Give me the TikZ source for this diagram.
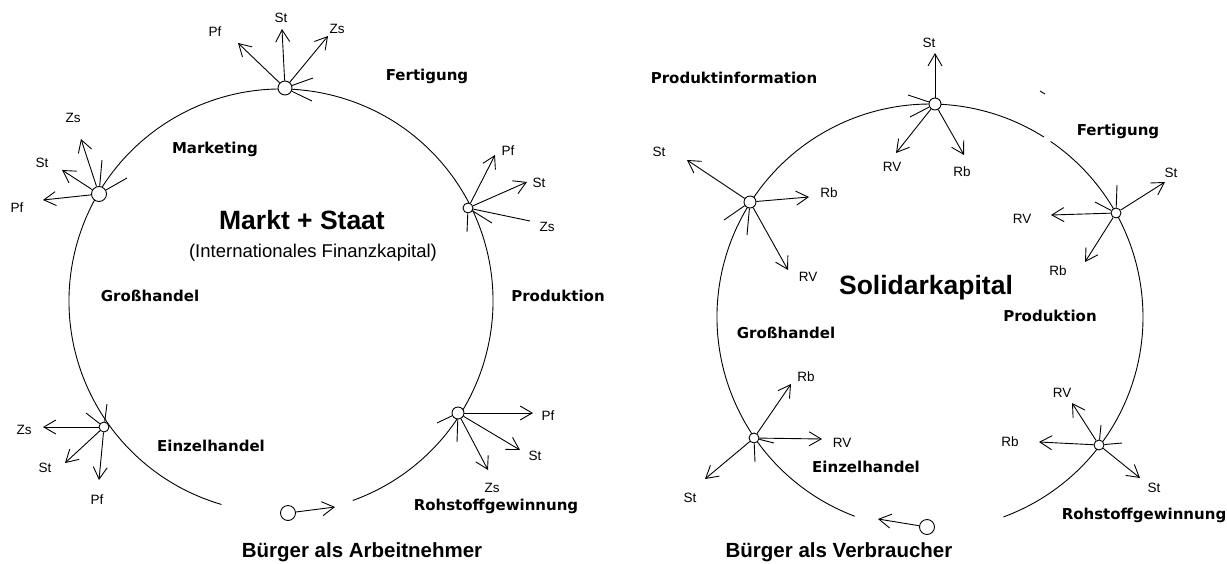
\documentclass[tikz,border=0pt]{standalone}
\usepackage{fontspec}
\setmainfont{Liberation Sans}
\newfontfamily\labelfont{DejaVu Sans}
\usetikzlibrary{arrows.meta}

\begin{document}
\begin{tikzpicture}[x=1pt, y=-1pt, line width=0.9pt,
    >={Straight Barb[length=12pt,width=14pt]},
    hub/.style={circle, draw, fill=white, inner sep=0pt, minimum size=#1},
    hub/.default=10pt,
    stage/.style={font=\labelfont\bfseries\fontsize{15}{18}\selectfont, inner sep=0pt},
    abbr/.style={font=\fontsize{13.5}{16}\selectfont, inner sep=0pt},
    headline/.style={font=\bfseries\fontsize{26.5}{30}\selectfont, inner sep=0pt},
    citizen/.style={font=\bfseries\fontsize{20.5}{24}\selectfont, inner sep=0pt}]
            \useasboundingbox (0,0) rectangle (1227,563);

            % Left cycle
            \coordinate (lc) at (281,301);
            \draw (lc) ++(106.3:212) arc[start angle=106.3, end angle=430.2, radius=212];

            \node[headline] (markt) at (302,220) {Markt + Staat};
            \node[inner sep=0pt, font=\fontsize{18.5}{22}\selectfont] (finanz) at (313,253) {(Internationales Finanzkapital)};
            \node[stage] (lfert) at (427,76) {Fertigung};
            \node[stage] (lmark) at (215,149) {Marketing};
            \node[stage] (lgross) at (150,296) {Großhandel};
            \node[stage] (lprod) at (558,296) {Produktion};
            \node[stage] (leinz) at (211,446) {Einzelhandel};
            \node[stage] (lroh) at (496,506) {Rohstoffgewinnung};
            \node[citizen] (larb) at (362,552) {Bürger als Arbeitnehmer};

            % Top hub
            \node[hub=14pt] (lt) at (285,88) {};
            \coordinate (lt1) at (282,29);
            \coordinate (lt2) at (238,43);
            \coordinate (lt3) at (328,36);
            \coordinate (lt4) at (313,78);
            \coordinate (lt5) at (312,101);
            \draw[->] (lt) -- (lt1);
            \draw[->] (lt) -- (lt2);
            \draw[->] (lt) -- (lt3);
            \draw (lt) -- (lt4);
            \draw (lt) -- (lt5);
            \node[abbr] (lt1t) at (281,18) {St};
            \node[abbr] (lt2t) at (215,32) {Pf};
            \node[abbr] (lt3t) at (337,29) {Zs};

            % Marketing hub
            \node[hub=15pt] (ll) at (99,194) {};
            \coordinate (ll1) at (81,139);
            \coordinate (ll2) at (62,170);
            \coordinate (ll3) at (43,200);
            \coordinate (ll4) at (102,160);
            \coordinate (ll5) at (127,178);
            \draw[->] (ll) -- (ll1);
            \draw[->] (ll) -- (ll2);
            \draw[->] (ll) -- (ll3);
            \draw (ll) -- (ll4);
            \draw (ll) -- (ll5);
            \node[abbr] (ll1t) at (73,118) {Zs};
            \node[abbr] (ll2t) at (42,163) {St};
            \node[abbr] (ll3t) at (17,208) {Pf};

            % Production hub
            \node[hub] (lr) at (468,208) {};
            \coordinate (lr1) at (495,155);
            \coordinate (lr2) at (527,182);
            \coordinate (lr3) at (530,221);
            \coordinate (lr4) at (492,223);
            \coordinate (lr5) at (467,232);
            \draw[->] (lr) -- (lr1);
            \draw[->] (lr) -- (lr2);
            \draw (lr) -- (lr3);
            \draw (lr) -- (lr4);
            \draw (lr) -- (lr5);
            \node[abbr] (lr1t) at (508,151) {Pf};
            \node[abbr] (lr2t) at (539,183) {St};
            \node[abbr] (lr3t) at (547,227) {Zs};

            % Retail hub
            \node[hub] (llb) at (104,427) {};
            \coordinate (llb1) at (43,427);
            \coordinate (llb2) at (65,463);
            \coordinate (llb3) at (99,480);
            \coordinate (llb4) at (86,413);
            \coordinate (llb5) at (107,404);
            \draw[->] (llb) -- (llb1);
            \draw[->] (llb) -- (llb2);
            \draw[->] (llb) -- (llb3);
            \draw (llb) -- (llb4);
            \draw (llb) -- (llb5);
            \node[abbr] (llb1t) at (24,430) {Zs};
            \node[abbr] (llb2t) at (45,468) {St};
            \node[abbr] (llb3t) at (97,500) {Pf};

            % Raw material hub
            \node[hub=12pt] (lrb) at (458,413) {};
            \coordinate (lrb1) at (533,413);
            \coordinate (lrb2) at (520,450);
            \coordinate (lrb3) at (488,470);
            \coordinate (lrb4) at (437,423);
            \coordinate (lrb5) at (457,442);
            \draw[->] (lrb) -- (lrb1);
            \draw[->] (lrb) -- (lrb2);
            \draw[->] (lrb) -- (lrb3);
            \draw (lrb) -- (lrb4);
            \draw (lrb) -- (lrb5);
            \node[abbr] (lrb1t) at (548,416) {Pf};
            \node[abbr] (lrb2t) at (535,456) {St};
            \node[abbr] (lrb3t) at (492,488) {Zs};

            % Worker
            \node[hub=15pt] (lp) at (288,513) {};
            \coordinate (lp1) at (335,507);
            \draw[->] (lp) -- (lp1);

            % Right cycle
            \coordinate (rc) at (930,317);
            \draw (rc) ++(110.7:213) arc[start angle=110.7, end angle=302.3, radius=213];
            \draw (rc) ++(304.5:213) arc[start angle=304.5, end angle=429.8, radius=213];
            \coordinate (rk1) at (1040,91);
            \coordinate (rk2) at (1045,94);
            \draw (rk1) -- (rk2);

            \node[headline] (solid) at (926,288) {Solidarkapital};
            \node[stage] (rinfo) at (734,78) {Produktinformation};
            \node[stage] (rfert) at (1118,131) {Fertigung};
            \node[stage] (rprod) at (1050,316) {Produktion};
            \node[stage] (rgross) at (786,333) {Großhandel};
            \node[stage] (reinz) at (866,467) {Einzelhandel};
            \node[stage] (rroh) at (1144,515) {Rohstoffgewinnung};
            \node[citizen] (rverb) at (839,552) {Bürger als Verbraucher};

            % Top hub
            \node[hub=12pt] (rt) at (935,104) {};
            \coordinate (rt1) at (935,53);
            \coordinate (rt2) at (896,153);
            \coordinate (rt3) at (964,155);
            \coordinate (rt4) at (908,95);
            \coordinate (rt5) at (910,117);
            \draw[->] (rt) -- (rt1);
            \draw[->] (rt) -- (rt2);
            \draw[->] (rt) -- (rt3);
            \draw (rt) -- (rt4);
            \draw (rt) -- (rt5);
            \node[abbr] (rt1t) at (929,43) {St};
            \node[abbr] (rt2t) at (892,167) {RV};
            \node[abbr] (rt3t) at (962,172) {Rb};

            % Information hub
            \node[hub=12pt] (rl) at (750,202) {};
            \coordinate (rl1) at (687,160);
            \coordinate (rl2) at (809,197);
            \coordinate (rl3) at (788,270);
            \coordinate (rl4) at (724,220);
            \coordinate (rl5) at (747,235);
            \draw[->] (rl) -- (rl1);
            \draw[->] (rl) -- (rl2);
            \draw[->] (rl) -- (rl3);
            \draw (rl) -- (rl4);
            \draw (rl) -- (rl5);
            \node[abbr] (rl1t) at (659,152) {St};
            \node[abbr] (rl2t) at (829,193) {Rb};
            \node[abbr] (rl3t) at (808,277) {RV};

            % Production hub
            \node[hub] (rr) at (1116,213) {};
            \coordinate (rr1) at (1165,182);
            \coordinate (rr2) at (1051,215);
            \coordinate (rr3) at (1085,262);
            \coordinate (rr4) at (1117,185);
            \coordinate (rr5) at (1095,202);
            \draw[->] (rr) -- (rr1);
            \draw[->] (rr) -- (rr2);
            \draw[->] (rr) -- (rr3);
            \draw (rr) -- (rr4);
            \draw (rr) -- (rr5);
            \node[abbr] (rr1t) at (1171,173) {St};
            \node[abbr] (rr2t) at (1022,219) {RV};
            \node[abbr] (rr3t) at (1058,271) {Rb};

            % Retail hub
            \node[hub] (rlb) at (754,438) {};
            \coordinate (rlb1) at (791,384);
            \coordinate (rlb2) at (822,439);
            \coordinate (rlb3) at (705,479);
            \coordinate (rlb4) at (755,462);
            \coordinate (rlb5) at (774,443);
            \draw[->] (rlb) -- (rlb1);
            \draw[->] (rlb) -- (rlb2);
            \draw[->] (rlb) -- (rlb3);
            \draw (rlb) -- (rlb4);
            \draw (rlb) -- (rlb5);
            \node[abbr] (rlb1t) at (806,377) {Rb};
            \node[abbr] (rlb2t) at (842,443) {RV};
            \node[abbr] (rlb3t) at (690,498) {St};

            % Raw material hub
            \node[hub] (rrb) at (1099,445) {};
            \coordinate (rrb1) at (1072,403);
            \coordinate (rrb2) at (1039,442);
            \coordinate (rrb3) at (1140,478);
            \coordinate (rrb4) at (1101,425);
            \coordinate (rrb5) at (1122,443);
            \draw[->] (rrb) -- (rrb1);
            \draw[->] (rrb) -- (rrb2);
            \draw[->] (rrb) -- (rrb3);
            \draw (rrb) -- (rrb4);
            \draw (rrb) -- (rrb5);
            \node[abbr] (rrb1t) at (1062,393) {RV};
            \node[abbr] (rrb2t) at (1010,442) {Rb};
            \node[abbr] (rrb3t) at (1154,488) {St};

            % Consumer
            \node[hub=15pt] (rp) at (927,527) {};
            \coordinate (rp1) at (878,519);
            \draw[->] (rp) -- (rp1);
        \end{tikzpicture}
\end{document}
